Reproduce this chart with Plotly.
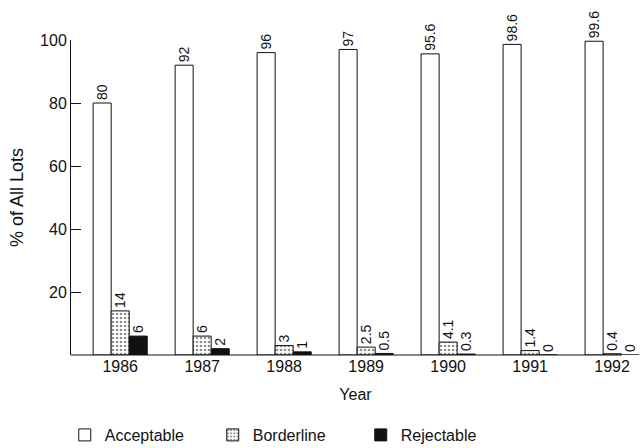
import plotly.graph_objects as go

years = ["1986", "1987", "1988", "1989", "1990", "1991", "1992"]
acceptable = [80, 92, 96, 97, 95.6, 98.6, 99.6]
borderline = [14, 6, 3, 2.5, 4.1, 1.4, 0.4]
rejectable = [6, 2, 1, 0.5, 0.3, 0, 0]
acc_text = ["80", "92", "96", "97", "95.6", "98.6", "99.6"]
bor_text = ["14", "6", "3", "2.5", "4.1", "1.4", "0.4"]
rej_text = ["6", "2", "1", "0.5", "0.3", "0", "0"]

FONT = "Liberation Sans, Arial, sans-serif"
common = dict(textposition="outside", textangle=-90, cliponaxis=False,
              constraintext="none",
              outsidetextfont=dict(size=14, color="#111", family=FONT))

fig = go.Figure()
fig.add_bar(x=years, y=acceptable, name="Acceptable", text=acc_text,
            marker=dict(color="white", line=dict(color="#111", width=1)), **common)
fig.add_bar(x=years, y=borderline, name="Borderline", text=bor_text,
            marker=dict(color="white", line=dict(color="#111", width=1),
                        pattern=dict(shape=".", fgcolor="#222", bgcolor="white",
                                     size=4, solidity=0.35)), **common)
fig.add_bar(x=years, y=rejectable, name="Rejectable", text=rej_text,
            marker=dict(color="#111", line=dict(color="#111", width=1)), **common)

fig.update_layout(
    width=640, height=448,
    margin=dict(l=71, r=0, t=40, b=93, autoexpand=False),
    paper_bgcolor="white", plot_bgcolor="white",
    barmode="group", bargap=0.34, bargroupgap=0,
    font=dict(family=FONT, size=16, color="#111"),
    xaxis=dict(range=[-0.6, 6.34], showline=False,
               ticks="", showgrid=False, zeroline=False, automargin=False,
               title=dict(text="Year", font=dict(size=16), standoff=14),
               tickfont=dict(size=16)),
    yaxis=dict(range=[0, 100], showline=True, linecolor="#111", linewidth=1,
               ticks="inside", ticklen=10, tickcolor="#111", automargin=False,
               tickvals=[20, 40, 60, 80, 100], showgrid=False, zeroline=False,
               title=dict(text="% of All Lots", font=dict(size=18), standoff=11),
               tickfont=dict(size=16)),
    legend=dict(orientation="h", x=-0.011, xanchor="left", y=-0.2, yanchor="top",
                font=dict(size=16), entrywidth=103, traceorder="normal"),
    showlegend=True,
    shapes=[dict(type="line", xref="paper", yref="paper", x0=0, x1=0.968,
                 y0=0, y1=0, line=dict(color="#111", width=1))],
)

fig.write_html("out.html", config={"displayModeBar": False},
               post_script="document.body.style.margin='0';document.body.style.overflow='hidden';")
